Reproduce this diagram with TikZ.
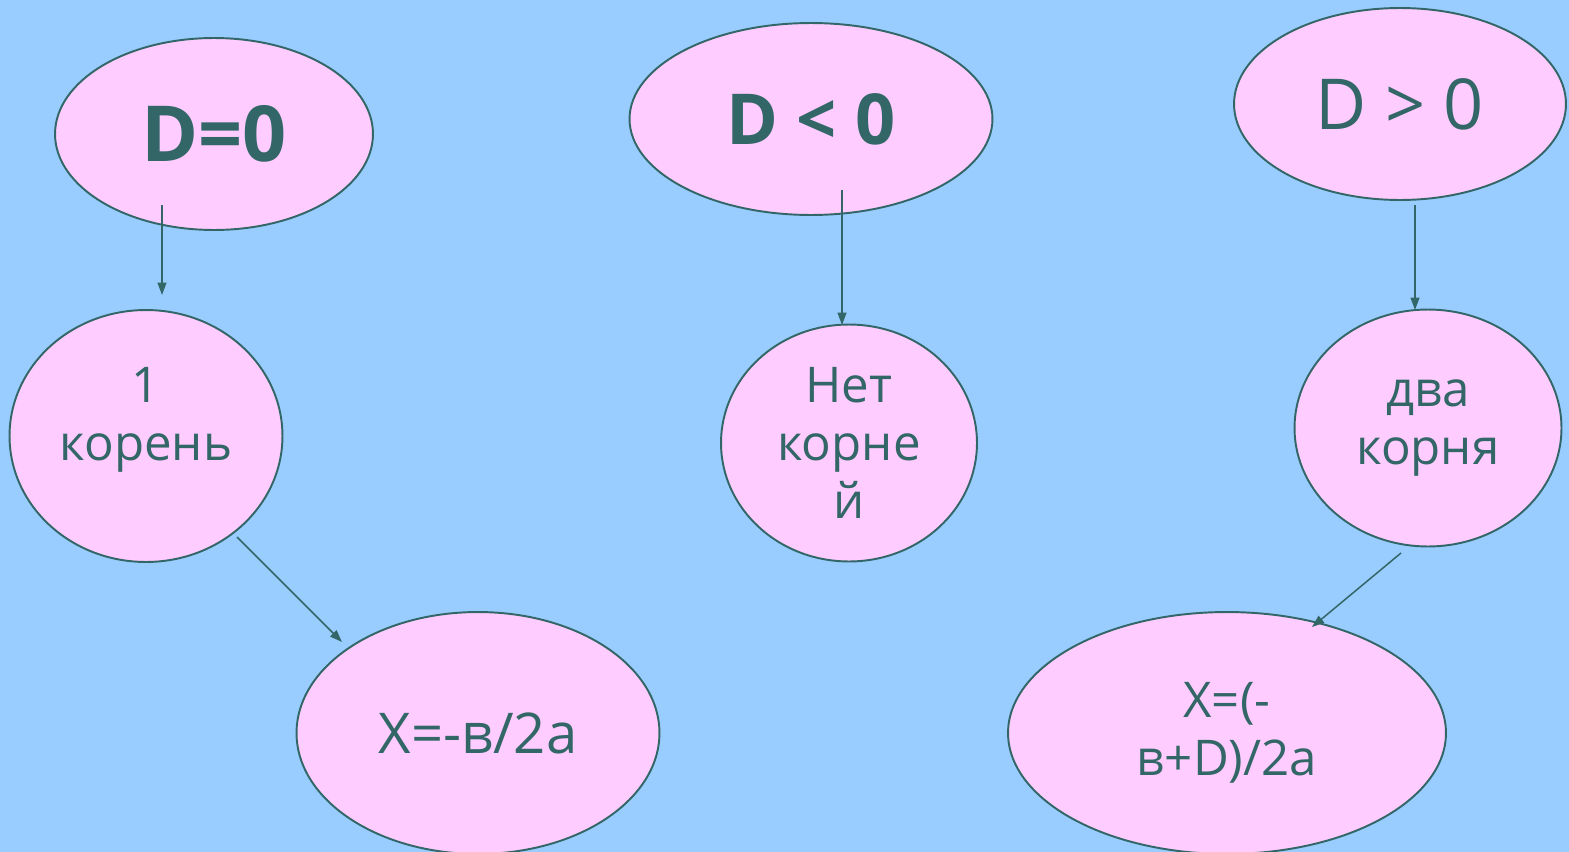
\documentclass[tikz,border=0pt]{standalone}
\usepackage{fontspec}
\setmainfont{Open Sans}
\usetikzlibrary{shapes.geometric,arrows.meta}
\definecolor{sky}{HTML}{99CCFF}
\definecolor{rose}{HTML}{FFCCFF}
\definecolor{slate}{HTML}{336666}

\begin{document}
\begin{tikzpicture}[x=0.02cm,y=-0.02cm,
    bubble/.style={ellipse,draw=slate,fill=rose,line width=1.1pt,inner sep=0,text=slate,align=center,font=\fontsize{28}{33}\selectfont},
    link/.style={draw=slate,line width=0.85pt,-{Triangle[length=7pt,width=5pt]}}]
        \fill[sky] (0,0) rectangle (1569,852);
        \useasboundingbox (0,0) rectangle (1569,852);
        \node[bubble,minimum width=6.36cm,minimum height=3.84cm,font=\fontsize{44}{50}\selectfont\bfseries] (d0) at (214,134) {D=0};
        \node[bubble,minimum width=7.26cm,minimum height=3.84cm,font=\fontsize{40}{46}\selectfont\bfseries] (dn) at (811,119) {D < 0};
        \node[bubble,minimum width=6.64cm,minimum height=3.84cm,font=\fontsize{40}{46}\selectfont] (dp) at (1400,104) {D > 0};
        \node[bubble,minimum width=5.46cm,minimum height=5.04cm] (one) at (146,436) {1\\корень\\[-8pt]\mbox{}};
        \node[bubble,minimum width=5.12cm,minimum height=4.74cm] (none) at (849,443) {Нет\\корне\\й};
        \node[bubble,minimum width=5.34cm,minimum height=4.74cm] (two) at (1428,428) {два\\корня};
        \node[bubble,minimum width=7.26cm,minimum height=4.84cm,font=\fontsize{32}{38}\selectfont] (x1) at (478,733) {X=-в/2а};
        \node[bubble,minimum width=8.76cm,minimum height=4.84cm] (x2) at (1227,733) {X=(-\\в+D)/2а};
        \coordinate (d0a) at (162,205);
        \coordinate (oneb) at (162,295);
        \coordinate (dna) at (842,190);
        \coordinate (noneb) at (842,325);
        \coordinate (dpa) at (1415,205);
        \coordinate (twob) at (1415,310);
        \coordinate (onea) at (237,537);
        \coordinate (x1b) at (342,642);
        \coordinate (twoa) at (1401,553);
        \coordinate (x2b) at (1312,627);
        \draw[link] (d0a) -- (oneb);
        \draw[link] (dna) -- (noneb);
        \draw[link] (dpa) -- (twob);
        \draw[link] (onea) -- (x1b);
        \draw[link] (twoa) -- (x2b);
      \end{tikzpicture}
\end{document}
